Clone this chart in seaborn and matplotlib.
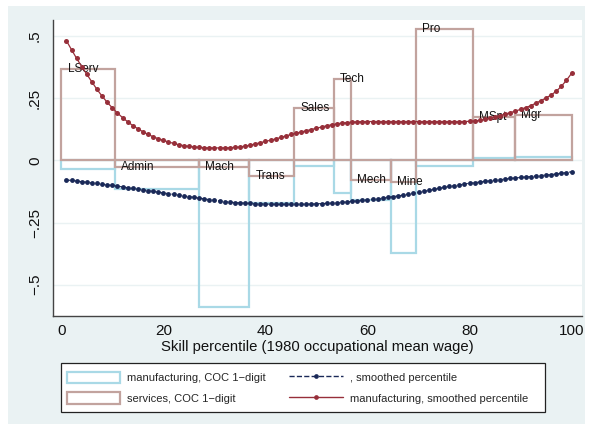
import matplotlib
matplotlib.use("Agg")
import matplotlib.pyplot as plt
from matplotlib.patches import Patch, Rectangle
from matplotlib.lines import Line2D
import pandas as pd
import seaborn as sns

# Occupation groups (COC 1-digit) ordered by 1980 skill percentile
occupations = ["LServ", "Admin", "Mach", "Trans", "Sales", "Tech",
               "Mech", "Mine", "Pro", "MSpt", "Mgr"]
bin_edges = [0, 10.5, 27.0, 36.8, 45.6, 53.4, 56.8, 64.6, 69.5, 80.6, 88.9, 100.0]
manufacturing_bars = [-0.033, -0.116, -0.590, -0.172, -0.021, -0.131,
                      -0.160, -0.371, -0.023, 0.010, 0.012]
services_bars = [0.369, -0.027, -0.027, -0.063, 0.212, 0.328,
                 -0.079, -0.086, 0.527, 0.173, 0.183]

# Smoothed changes by skill percentile
percentiles = list(range(1, 101))
smooth_navy = [
    -0.079, -0.081, -0.083, -0.086, -0.088, -0.091, -0.093, -0.096, -0.099, -0.101,
    -0.104, -0.107, -0.110, -0.113, -0.116, -0.119, -0.122, -0.125, -0.128, -0.131,
    -0.134, -0.137, -0.140, -0.143, -0.146, -0.149, -0.152, -0.155, -0.158, -0.161,
    -0.163, -0.166, -0.168, -0.170, -0.171, -0.172, -0.173, -0.174, -0.175, -0.176,
    -0.176, -0.177, -0.177, -0.177, -0.177, -0.177, -0.177, -0.176, -0.176, -0.175,
    -0.174, -0.173, -0.172, -0.170, -0.169, -0.167, -0.165, -0.163, -0.161, -0.159,
    -0.157, -0.155, -0.152, -0.149, -0.146, -0.143, -0.140, -0.136, -0.133, -0.129,
    -0.125, -0.121, -0.117, -0.113, -0.109, -0.105, -0.102, -0.099, -0.095, -0.092,
    -0.090, -0.087, -0.085, -0.082, -0.080, -0.078, -0.075, -0.073, -0.071, -0.069,
    -0.067, -0.065, -0.063, -0.061, -0.059, -0.057, -0.055, -0.052, -0.049, -0.046,
]
smooth_red = [
    0.481, 0.445, 0.410, 0.377, 0.346, 0.315, 0.285, 0.258, 0.233, 0.211,
    0.190, 0.172, 0.155, 0.140, 0.127, 0.115, 0.104, 0.095, 0.087, 0.080,
    0.074, 0.068, 0.063, 0.059, 0.056, 0.054, 0.052, 0.051, 0.050, 0.050,
    0.050, 0.050, 0.051, 0.052, 0.054, 0.057, 0.061, 0.066, 0.071, 0.076,
    0.081, 0.086, 0.092, 0.098, 0.104, 0.109, 0.114, 0.119, 0.124, 0.129,
    0.134, 0.139, 0.143, 0.147, 0.150, 0.152, 0.154, 0.155, 0.156, 0.156,
    0.156, 0.156, 0.156, 0.156, 0.156, 0.156, 0.156, 0.156, 0.156, 0.156,
    0.156, 0.156, 0.156, 0.156, 0.156, 0.156, 0.156, 0.156, 0.156, 0.157,
    0.158, 0.161, 0.165, 0.170, 0.175, 0.180, 0.186, 0.192, 0.198, 0.205,
    0.212, 0.220, 0.230, 0.240, 0.251, 0.263, 0.278, 0.298, 0.322, 0.350,
]

y_ticks = [-0.5, -0.25, 0, 0.25, 0.5]
y_tick_labels = ["\u2212.5", "\u2212.25", "0", ".25", ".5"]
x_ticks = [0, 20, 40, 60, 80, 100]

legend_labels = ["manufacturing, COC 1\u2212digit", "services, COC 1\u2212digit",
                 ", smoothed percentile", "manufacturing, smoothed percentile"]

sns.set_theme(style="white")
plt.rcParams["font.family"] = ["Liberation Sans", "DejaVu Sans"]

BLUE = "#A9D9E6"
BROWN = "#C2A39E"
RED = "#972F3A"
NAVY = "#1A2958"
BG = "#EAF2F3"
AXIS = "#444444"

W, H = 591, 430
fig = plt.figure(figsize=(W / 100, H / 100), dpi=100)
fig.patch.set_facecolor("white")
# outer graph region
fig.patches.append(Rectangle((8 / W, 6 / H), 577 / W, 418 / H,
                             transform=fig.transFigure, facecolor=BG,
                             edgecolor="none", zorder=-10))
# legend box
fig.patches.append(Rectangle((61 / W, 1 - 412 / H), 484 / W, 49 / H,
                             transform=fig.transFigure, facecolor="white",
                             edgecolor="#222222", linewidth=0.9, zorder=1))

ax = fig.add_axes([53 / W, 1 - 316 / H, 529 / W, 296 / H])
ax.set_facecolor("white")

lefts = bin_edges[:-1]
widths = [b - a for a, b in zip(bin_edges[:-1], bin_edges[1:])]
bars = pd.DataFrame({"occ": occupations, "left": lefts, "width": widths,
                     "manu": manufacturing_bars, "serv": services_bars})

ax.bar(bars["left"], bars["manu"], width=bars["width"], align="edge",
       fill=False, edgecolor=BLUE, linewidth=1.6, zorder=2)
ax.bar(bars["left"], bars["serv"], width=bars["width"], align="edge",
       fill=False, edgecolor=BROWN, linewidth=1.6, zorder=3)

for _, r in bars.iterrows():
    ax.annotate(r["occ"], (r["left"], r["serv"]), xytext=(4.5, 0),
                textcoords="offset points", ha="left", va="center",
                fontsize=8.5, color="#111111", zorder=4)

curves = pd.DataFrame({"pct": percentiles, "navy": smooth_navy, "red": smooth_red})
sns.lineplot(data=curves, x="pct", y="navy", ax=ax, color=NAVY, linestyle="--",
             linewidth=0.8, marker="o", markersize=3.5, markeredgewidth=0,
             zorder=5)
sns.lineplot(data=curves, x="pct", y="red", ax=ax, color=RED, linestyle="-",
             linewidth=0.9, marker="o", markersize=3.6, markeredgewidth=0,
             zorder=6)

ax.set_xlim(-1.63, 102.04)
ax.set_ylim(-0.626, 0.5644)
ax.set_yticks(y_ticks)
ax.set_yticklabels(y_tick_labels, rotation=90, va="center")
ax.set_xticks(x_ticks)
ax.grid(axis="y", color=BG, linewidth=1.0, zorder=0)
ax.set_axisbelow(True)

for side in ["top", "right"]:
    ax.spines[side].set_visible(False)
for side in ["left", "bottom"]:
    ax.spines[side].set_color(AXIS)
    ax.spines[side].set_linewidth(1.0)

ax.tick_params(axis="both", which="major", direction="out", length=4,
               width=0.9, color=AXIS, labelsize=11, labelcolor="#111111")
ax.tick_params(axis="x", pad=2)
ax.tick_params(axis="y", pad=4)
ax.set_xlabel("Skill percentile (1980 occupational mean wage)", fontsize=10.7,
              color="#111111", labelpad=1)
ax.set_ylabel("")

handles = [
    Patch(facecolor="white", edgecolor=BLUE, linewidth=1.6),
    Patch(facecolor="white", edgecolor=BROWN, linewidth=1.6),
    Line2D([], [], color=NAVY, linestyle="--", linewidth=1.0, marker="o",
           markersize=3.4, markeredgewidth=0),
    Line2D([], [], color=RED, linestyle="-", linewidth=1.0, marker="o",
           markersize=3.4, markeredgewidth=0),
]
leg = fig.legend(handles, legend_labels, ncol=2, loc="upper left",
                 bbox_to_anchor=(61 / W, 1 - 366 / H),
                 fontsize=8, frameon=False,
                 handlelength=4.8, handleheight=1.25, handletextpad=0.66,
                 labelspacing=0.8, borderpad=0.5, borderaxespad=0,
                 columnspacing=2.1)
leg.set_zorder(2)

fig.savefig("out.png", dpi=100)
